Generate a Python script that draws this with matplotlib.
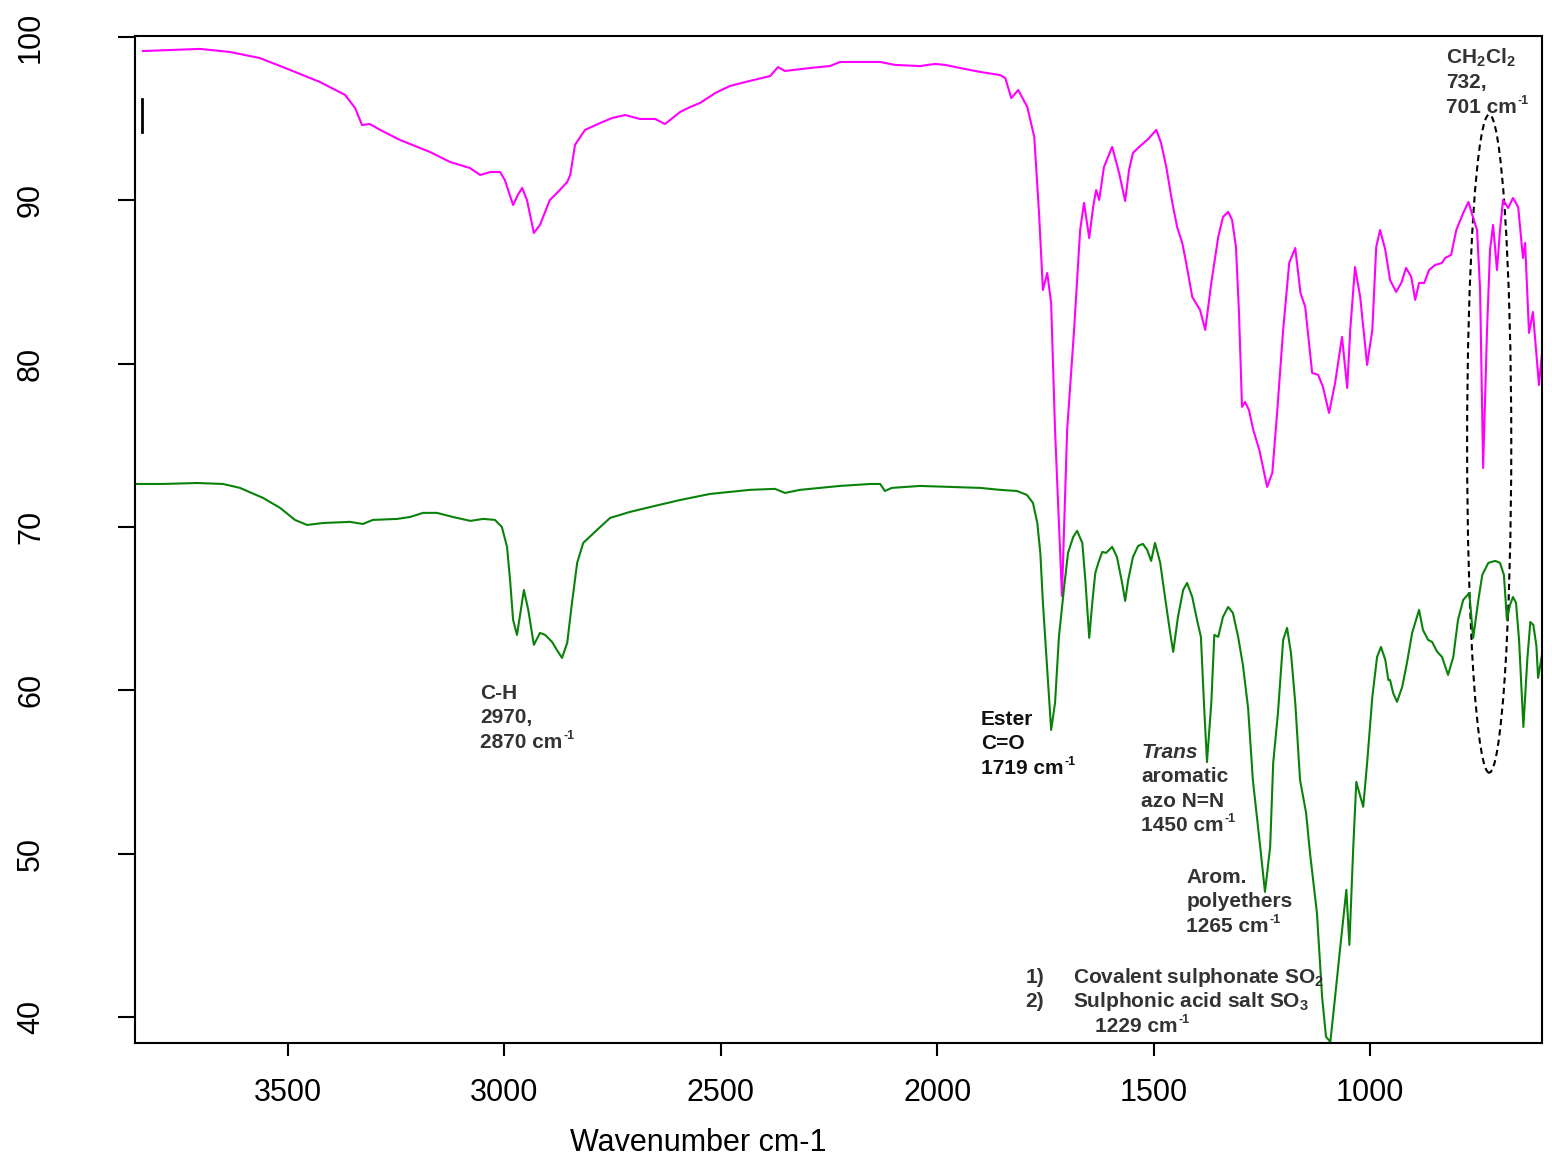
import matplotlib
matplotlib.use("Agg")
import matplotlib.pyplot as plt
from matplotlib.patches import Ellipse

plt.rcParams['font.family'] = ['Liberation Sans', 'DejaVu Sans']
plt.rcParams['mathtext.fontset'] = 'custom'
plt.rcParams['mathtext.rm'] = 'Liberation Sans'
plt.rcParams['mathtext.bf'] = 'Liberation Sans:bold'
plt.rcParams['mathtext.it'] = 'Liberation Sans:italic'

# ---------------- data (wavenumber cm-1, transmittance %) ----------------
magenta_wn = [3835, 3772, 3703, 3634, 3565, 3495, 3426, 3368, 3345, 3329, 3311, 3287, 3241, 3172,
              3126, 3080, 3056, 3033, 3010, 2999, 2980, 2969, 2959, 2948, 2932, 2918, 2895, 2872,
              2855, 2848, 2837, 2814, 2779, 2751, 2721, 2687, 2652, 2629, 2594, 2571, 2548, 2513,
              2479, 2433, 2386, 2368, 2352, 2294, 2248, 2225, 2178, 2132, 2098, 2040, 2005, 1982,
              1947, 1901, 1855, 1843, 1829, 1813, 1792, 1776, 1765, 1756, 1746, 1737, 1728, 1712,
              1700, 1684, 1670, 1661, 1649, 1640, 1633, 1626, 1615, 1596, 1580, 1566, 1557, 1548,
              1531, 1513, 1494, 1483, 1471, 1457, 1446, 1434, 1425, 1411, 1393, 1381, 1367, 1351,
              1340, 1328, 1319, 1310, 1303, 1296, 1289, 1280, 1270, 1256, 1238, 1226, 1215, 1201,
              1187, 1173, 1161, 1150, 1134, 1120, 1109, 1095, 1081, 1065, 1053, 1046, 1035, 1023,
              1007, 995, 986, 977, 965, 954, 940, 928, 917, 905, 896, 887, 875, 864, 850, 834,
              827, 813, 801, 785, 773, 764, 753, 746, 739, 730, 723, 716, 707, 700, 693, 681,
              670, 658, 647, 642, 633, 624, 610, 603]
magenta_T = [99.14, 99.20, 99.27, 99.08, 98.71, 97.98, 97.24, 96.45, 95.65, 94.61, 94.67, 94.31,
             93.69, 92.96, 92.35, 91.98, 91.55, 91.73, 91.73, 91.24, 89.71, 90.33, 90.76, 90.02,
             88.00, 88.49, 90.02, 90.63, 91.12, 91.55, 93.39, 94.31, 94.73, 95.04, 95.22, 94.98,
             94.98, 94.67, 95.41, 95.71, 95.96, 96.57, 97.00, 97.31, 97.61, 98.16, 97.92, 98.10,
             98.22, 98.47, 98.47, 98.47, 98.29, 98.22, 98.35, 98.29, 98.10, 97.86, 97.67, 97.49,
             96.26, 96.75, 95.71, 93.88, 89.23, 84.51, 85.55, 83.71, 75.94, 65.77, 75.94, 82.06,
             88.18, 89.84, 87.69, 89.59, 90.63, 90.02, 92.04, 93.27, 91.67, 89.96, 91.86, 92.90,
             93.33, 93.75, 94.31, 93.51, 92.04, 89.84, 88.37, 87.38, 86.16, 84.08, 83.29, 82.06,
             84.94, 87.75, 88.98, 89.29, 88.80, 87.14, 83.10, 77.35, 77.65, 77.16, 75.94, 74.71,
             72.45, 73.31, 76.98, 82.06, 86.16, 87.08, 84.33, 83.47, 79.43, 79.31, 78.57, 76.98,
             78.81, 81.63, 78.51, 82.06, 85.92, 84.08, 79.92, 82.06, 87.14, 88.18, 86.96, 85.12,
             84.39, 84.94, 85.86, 85.31, 83.90, 84.94, 84.94, 85.73, 86.04, 86.16, 86.47, 86.65,
             88.18, 89.22, 89.90, 89.10, 88.18, 84.51, 73.61, 82.06, 86.96, 88.49, 85.73, 88.18,
             90.02, 89.53, 90.14, 89.59, 86.47, 87.39, 81.88, 83.16, 78.69, 80.65]

green_wn = [3853, 3789, 3710, 3650, 3611, 3558, 3518, 3484, 3456, 3419, 3357, 3327, 3304, 3248,
            3218, 3188, 3156, 3119, 3079, 3049, 3022, 3006, 2994, 2987, 2980, 2971, 2962, 2955,
            2945, 2932, 2918, 2906, 2890, 2879, 2867, 2855, 2844, 2832, 2818, 2786, 2756, 2710,
            2663, 2594, 2525, 2433, 2375, 2352, 2317, 2225, 2155, 2132, 2121, 2105, 2040, 1970,
            1901, 1855, 1816, 1793, 1779, 1769, 1762, 1756, 1746, 1737, 1728, 1719, 1707, 1698,
            1686, 1677, 1665, 1658, 1649, 1642, 1635, 1628, 1619, 1610, 1596, 1585, 1573, 1566,
            1559, 1548, 1536, 1525, 1515, 1506, 1497, 1485, 1474, 1462, 1455, 1444, 1432, 1423,
            1411, 1400, 1391, 1384, 1377, 1367, 1360, 1351, 1340, 1328, 1317, 1305, 1294, 1282,
            1271, 1254, 1243, 1231, 1224, 1213, 1201, 1192, 1183, 1173, 1162, 1148, 1139, 1123,
            1111, 1102, 1092, 1081, 1069, 1055, 1048, 1039, 1032, 1027, 1016, 1007, 995, 984,
            975, 965, 958, 954, 947, 938, 926, 915, 903, 896, 887, 878, 866, 857, 845, 834,
            820, 808, 797, 785, 771, 762, 750, 741, 727, 711, 700, 691, 684, 677, 670, 663,
            656, 646, 637, 630, 623, 616, 612, 607, 603]
green_T = [72.63, 72.63, 72.69, 72.63, 72.39, 71.78, 71.16, 70.43, 70.12, 70.24, 70.31, 70.18,
           70.43, 70.49, 70.61, 70.86, 70.86, 70.61, 70.37, 70.49, 70.43, 70.00, 68.78, 66.75,
           64.31, 63.39, 64.92, 66.14, 64.92, 62.78, 63.51, 63.39, 62.96, 62.47, 61.98, 62.90,
           65.35, 67.80, 69.02, 69.82, 70.55, 70.92, 71.22, 71.65, 72.02, 72.27, 72.33, 72.08,
           72.27, 72.51, 72.63, 72.63, 72.20, 72.39, 72.51, 72.45, 72.39, 72.27, 72.20, 71.96,
           71.47, 70.25, 68.41, 65.35, 61.25, 57.57, 59.22, 63.27, 66.33, 68.41, 69.39, 69.76,
           69.02, 66.75, 63.21, 65.35, 67.18, 67.80, 68.47, 68.41, 68.78, 68.16, 66.57, 65.47,
           66.75, 68.16, 68.84, 68.96, 68.59, 67.92, 69.02, 67.80, 65.71, 63.51, 62.35, 64.49,
           66.14, 66.57, 65.71, 64.31, 63.27, 59.22, 55.60, 59.22, 63.39, 63.27, 64.49, 65.10,
           64.73, 63.27, 61.55, 58.92, 54.51, 50.41, 47.65, 50.41, 55.55, 58.61, 63.08, 63.82,
           62.29, 59.22, 54.51, 52.49, 50.04, 46.37, 41.22, 38.78, 38.47, 41.22, 44.29, 47.78,
           44.41, 50.41, 54.39, 53.90, 52.86, 55.55, 59.59, 62.04, 62.65, 61.86, 60.63, 60.63,
           59.84, 59.29, 60.20, 61.67, 63.51, 64.12, 64.92, 63.69, 63.08, 62.96, 62.35, 62.04,
           60.94, 62.04, 64.31, 65.53, 65.96, 63.20, 65.53, 67.06, 67.80, 67.92, 67.80, 67.06,
           64.31, 65.22, 65.71, 65.35, 63.08, 57.75, 61.86, 64.18, 64.00, 62.73, 60.76, 61.55,
           62.16]

x_ticks = [3500, 3000, 2500, 2000, 1500, 1000]
y_ticks = [40, 50, 60, 70, 80, 90, 100]
x_limits = (3853.5, 603)
y_limits = (38.4, 100.06)

# scale bar (wavenumber, T range) and dashed ellipse (centre wn, centre T, width, height)
scale_bar_wn = 3837
scale_bar_T = (94.2, 96.2)
ellipse_spec = (725, 75.1, 102, 40.3)

# annotations: (wavenumber, first baseline T, lines, colour); '^' marks a '-1' superscript
annotations = [
    (3056, 59.47, ['C-H', '2970,', '2870 cm^'], '#333333'),
    (1899, 57.88, ['Ester', 'C=O', '1719 cm^'], '#111111'),
    (1529, 55.86, ['*Trans', 'aromatic', 'azo N=N', '1450 cm^'], '#333333'),
    (1425, 48.20, ['Arom.', 'polyethers', '1265 cm^'], '#333333'),
    (824, 98.35, [r'CH$_{\mathbf{2}}$Cl$_{\mathbf{2}}$', '732,', '701 cm^'], '#333333'),
]
line_step = 1.5

# ---------------- figure ----------------
fig = plt.figure(figsize=(15.52, 11.68), dpi=100)
ax = fig.add_axes([135 / 1552, 1 - 1043 / 1168, 1407 / 1552, 1007 / 1168])

ax.plot(magenta_wn, magenta_T, color='#FF00FF', lw=1.5)
ax.plot(green_wn, green_T, color='#0A820A', lw=1.5)

ax.plot([scale_bar_wn, scale_bar_wn], scale_bar_T, color='black', lw=2)
ell = Ellipse((ellipse_spec[0], ellipse_spec[1]), ellipse_spec[2], ellipse_spec[3],
              fill=False, ls=(0, (3, 2)), lw=1.5, ec='black')
ax.add_patch(ell)

ax.set_xlim(*x_limits)
ax.set_ylim(*y_limits)
ax.set_xticks(x_ticks)
ax.set_yticks(y_ticks)
ax.set_xticklabels([str(t) for t in x_ticks], fontsize=22)
ax.set_yticklabels([str(t) for t in y_ticks], fontsize=22, rotation=90, va='center')
ax.tick_params(axis='x', length=9, width=1.5, pad=16)
ax.tick_params(axis='y', length=12, width=1.5, pad=52)
for sp in ax.spines.values():
    sp.set_linewidth(1.5)


def label(x, y, s, col, fs=15):
    sup = s.endswith('^')
    ital = s.startswith('*')
    s = s.rstrip('^').lstrip('*')
    t = ax.text(x, y, s, fontsize=fs, fontweight='bold', color=col, ha='left',
                va='baseline', fontstyle='italic' if ital else 'normal')
    if sup:
        ax.annotate('-1', xy=(1, 0), xycoords=t, xytext=(0.5, 9.5),
                    textcoords='offset points', fontsize=9, fontweight='bold',
                    color=col, ha='left', va='baseline')
    return t


for wn, t0, lines, col in annotations:
    for i, ln in enumerate(lines):
        label(wn, t0 - i * line_step, ln, col)

# bottom numbered list
grey = '#333333'
label(1797, 42.08, '1)', grey)
label(1686, 42.08, r'Covalent sulphonate SO$_{\mathbf{2}}$', grey)
label(1797, 40.61, '2)', grey)
label(1686, 40.61, r'Sulphonic acid salt SO$_{\mathbf{3}}$', grey)
label(1635, 39.08, '1229 cm^', grey)

fig.text(698 / 1552, 1 - 1143 / 1168, 'Wavenumber cm-1', fontsize=22, ha='center', va='center')

fig.savefig('out.png', dpi=100)
